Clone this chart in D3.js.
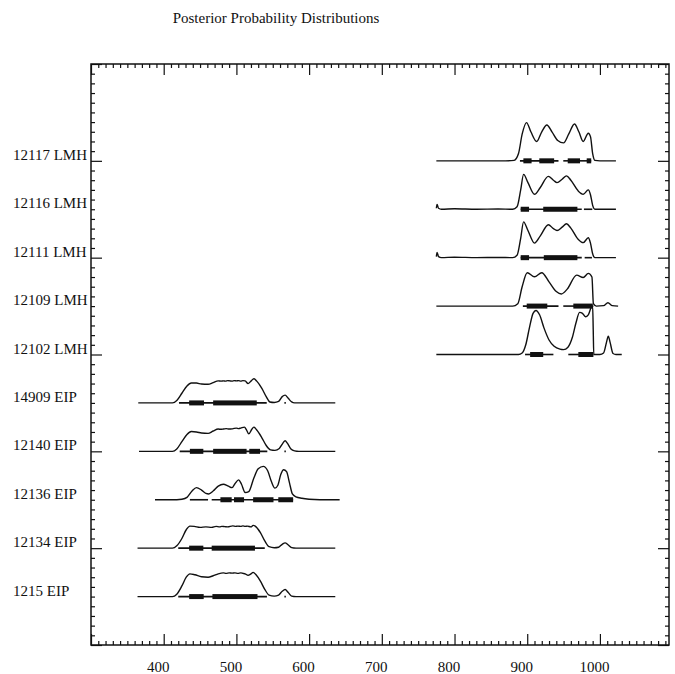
<!DOCTYPE html>
<html>
<head>
<meta charset="utf-8">
<script src="https://cdn.jsdelivr.net/npm/d3@7"></script>
<style>
  html, body { margin: 0; padding: 0; background: #ffffff; }
  svg { display: block; }
  text { font-family: "Liberation Serif", "Times New Roman", serif; fill: #111; }
</style>
</head>
<body>
<svg id="chart" width="675" height="674"></svg>
<script>
// ---------------- DATA ----------------
const title = "Posterior Probability Distributions";
const categories = ["1215 EIP", "12134 EIP", "12136 EIP", "12140 EIP", "14909 EIP",
                    "12102 LMH", "12109 LMH", "12111 LMH", "12116 LMH", "12117 LMH"];
const xTickLabels = [400, 500, 600, 700, 800, 900, 1000];

// density curves: [value, density]  (density in row-spacing units)
const d1215 = [[364,0],[412,0],[418,0.05],[425,0.22],[431,0.4],[436,0.47],[443,0.45],[452,0.41],[461,0.40],[468,0.43],[475,0.47],[482,0.49],[486,0.48],[490,0.49],[494,0.485],[498,0.49],[502,0.48],[506,0.49],[509,0.48],[512,0.47],[516,0.44],[520,0.47],[523,0.50],[527,0.45],[533,0.32],[539,0.15],[545,0.03],[552,0.01],[558,0.03],[563,0.11],[567,0.145],[571,0.09],[576,0.01],[582,0],[636,0]];
const d12134 = [[364,0],[412,0],[418,0.05],[425,0.2],[431,0.38],[436,0.455],[442,0.45],[450,0.43],[458,0.44],[466,0.43],[472,0.45],[477,0.44],[480,0.45],[484,0.445],[488,0.44],[495,0.46],[499,0.45],[502,0.455],[506,0.45],[509,0.46],[512,0.45],[515,0.455],[520,0.44],[523,0.47],[527,0.44],[533,0.32],[539,0.15],[545,0.03],[552,0.01],[558,0.02],[563,0.08],[567,0.11],[571,0.07],[576,0.01],[582,0],[636,0]];
const d12136 = [[388,0],[418,0],[425,0.01],[432,0.05],[439,0.18],[445,0.25],[452,0.2],[458,0.13],[462,0.12],[468,0.18],[475,0.28],[482,0.32],[489,0.28],[494,0.25],[498,0.33],[503,0.41],[507,0.32],[512,0.15],[517,0.17],[524,0.45],[530,0.64],[537,0.69],[543,0.6],[548,0.38],[553,0.24],[557,0.3],[561,0.52],[565,0.62],[569,0.58],[573,0.35],[577,0.12],[582,0.06],[590,0.03],[600,0.01],[615,0],[642,0]];
const d12140 = [[366,0],[412,0],[418,0.05],[425,0.2],[432,0.35],[438,0.41],[445,0.40],[452,0.38],[461,0.37],[468,0.42],[475,0.46],[479,0.455],[482,0.46],[486,0.47],[490,0.46],[494,0.465],[497,0.475],[500,0.48],[503,0.47],[506,0.48],[511,0.50],[514,0.44],[517,0.36],[521,0.45],[524,0.50],[528,0.44],[535,0.28],[541,0.12],[547,0.03],[553,0.02],[559,0.06],[564,0.17],[567,0.22],[570,0.17],[575,0.05],[580,0.01],[586,0],[636,0]];
const d14909 = [[365,0],[412,0],[418,0.05],[425,0.2],[432,0.35],[438,0.41],[445,0.41],[452,0.39],[461,0.385],[468,0.42],[475,0.455],[479,0.45],[482,0.455],[485,0.45],[488,0.46],[491,0.455],[494,0.45],[497,0.46],[500,0.455],[503,0.46],[506,0.45],[509,0.46],[512,0.455],[516,0.40],[520,0.45],[524,0.50],[528,0.45],[535,0.3],[541,0.13],[546,0.02],[552,0.01],[558,0.03],[563,0.13],[567,0.16],[571,0.1],[576,0.02],[580,0],[636,0]];
const d12102 = [[775,0],[888,0],[893,0.03],[898,0.2],[903,0.55],[908,0.85],[912,0.91],[917,0.82],[923,0.55],[930,0.3],[937,0.17],[945,0.11],[950,0.10],[956,0.15],[962,0.35],[967,0.65],[972,0.87],[976,0.85],[980,0.78],[984,0.82],[988,0.97],[990,0.99],[990.8,0.5],[991.5,0],[1000,0],[1005,0.03],[1009,0.25],[1011.5,0.38],[1014,0.25],[1018,0.02],[1022,0],[1030,0]];
const d12109 = [[775,0],[880,0],[887,0.05],[893,0.4],[900,0.69],[910,0.605],[920,0.69],[930,0.5],[940,0.3],[947,0.25],[955,0.35],[968,0.64],[977,0.59],[984,0.675],[989,0.6],[991,0.05],[995,0],[1005,0.01],[1011,0.07],[1017,0.01],[1025,0]];
const d12111 = [[775,0.02],[776,0.11],[778,0.02],[782,0],[800,0.01],[830,0],[860,0.005],[880,0],[886,0.05],[891,0.4],[895,0.74],[901,0.56],[910,0.30],[918,0.45],[929,0.68],[936,0.6],[941,0.56],[948,0.63],[954,0.70],[960,0.61],[970,0.38],[977,0.31],[984,0.41],[987,0.3],[990,0.08],[993,0],[1022,0]];
const d12116 = [[775,0.02],[776,0.1],[778,0.02],[782,0],[800,0.01],[830,0],[860,0.005],[880,0],[886,0.05],[891,0.4],[895,0.72],[901,0.55],[910,0.31],[918,0.45],[929,0.68],[936,0.6],[941,0.55],[948,0.62],[954,0.69],[960,0.6],[970,0.38],[977,0.31],[984,0.40],[987,0.3],[990,0.08],[993,0],[1022,0]];
const d12117 = [[775,0],[870,0],[882,0.01],[888,0.15],[893,0.55],[899,0.79],[905,0.6],[913,0.40],[920,0.6],[927,0.74],[934,0.6],[942,0.42],[950,0.37],[957,0.55],[965,0.76],[971,0.6],[977,0.40],[984,0.57],[987,0.5],[990,0.15],[993,0.01],[1000,0],[1022,0]];

// credible intervals: thin (wide) and thick (narrow) segments
const thin1215 = [[420,542],[566,568]];       const thick1215 = [[435,455],[467,529]];
const thin12134 = [[420,539]];                const thick12134 = [[435,454.5],[466,525.5]];
const thin12136 = [[436,461],[466,578]];      const thick12136 = [[478,493.5],[496.7,510.5],[523,551],[557.6,578]];
const thin12140 = [[422,542.5],[566,568]];    const thick12140 = [[436,454.5],[468,514],[517.7,532.5]];
const thin14909 = [[421,541.7],[566,568]];    const thick14909 = [[435,455.4],[468,528]];
const thin12102 = [[897,936],[956.5,991]];    const thick12102 = [[904,922],[970.3,991]];
const thin12109 = [[894,943],[949.6,991]];    const thick12109 = [[899.3,927.6],[963.4,990.2]];
const thin12111 = [[891,975],[979,989]];      const thick12111 = [[891,902.5],[922.8,969]];
const thin12116 = [[891,975],[978,989.5]];    const thick12116 = [[891,902.5],[922,969]];
const thin12117 = [[890,943],[949.6,988]];    const thick12117 = [[894.7,906],[916.6,937],[955.7,972.6],[981.8,988]];

const curves = [d1215, d12134, d12136, d12140, d14909, d12102, d12109, d12111, d12116, d12117];
const thinBars = [thin1215, thin12134, thin12136, thin12140, thin14909, thin12102, thin12109, thin12111, thin12116, thin12117];
const thickBars = [thick1215, thick12134, thick12136, thick12140, thick14909, thick12102, thick12109, thick12111, thick12116, thick12117];

// ---------------- CHART ----------------
const svg = d3.select("#chart");
const L = 91, R = 669, T = 64, B = 645;
const x = d3.scaleLinear().domain([300, 1095]).range([L, R]);
const y = d3.scaleLinear().domain([0, 12]).range([B, T]);

// title
svg.append("text").attr("x", 276).attr("y", 23).attr("text-anchor", "middle")
  .style("font-size", "15px").text(title);

// ticks
const xMajor = d3.range(300, 1100, 100);
const xMinor = d3.range(300, 1095, 10).filter(v => v % 100 !== 0);
const yMajor = d3.range(0, 13, 2);
const yMinor = d3.range(0, 12.01, 0.2).map(v => +v.toFixed(1)).filter(v => Math.abs(v / 2 - Math.round(v / 2)) > 1e-6);

function styleAxis(g) {
  g.select(".domain").remove();
  g.selectAll(".tick line").attr("stroke", "#111").attr("stroke-width", 1.2);
}
// bottom
svg.append("g").attr("transform", `translate(0,${B})`)
  .call(d3.axisBottom(x).tickValues(xMinor).tickSize(-4).tickFormat(""))
  .call(styleAxis);
const bx = svg.append("g").attr("transform", `translate(0,${B})`)
  .call(d3.axisBottom(x).tickValues(xMajor).tickSize(-11).tickFormat(d => xTickLabels.includes(d) ? d : ""))
  .call(styleAxis);
bx.selectAll(".tick text").attr("y", 27).attr("dy", 0).attr("dx", -6)
  .style("font-size", "15px").style("font-family", "Liberation Serif, serif").attr("fill", "#111");
// top
svg.append("g").attr("transform", `translate(0,${T})`)
  .call(d3.axisTop(x).tickValues(xMinor).tickSize(-4).tickFormat("")).call(styleAxis);
svg.append("g").attr("transform", `translate(0,${T})`)
  .call(d3.axisTop(x).tickValues(xMajor).tickSize(-11).tickFormat("")).call(styleAxis);
// left
svg.append("g").attr("transform", `translate(${L},0)`)
  .call(d3.axisLeft(y).tickValues(yMinor).tickSize(-4).tickFormat("")).call(styleAxis);
svg.append("g").attr("transform", `translate(${L},0)`)
  .call(d3.axisLeft(y).tickValues(yMajor).tickSize(-11).tickFormat("")).call(styleAxis);
// right
svg.append("g").attr("transform", `translate(${R},0)`)
  .call(d3.axisRight(y).tickValues(yMinor).tickSize(-4).tickFormat("")).call(styleAxis);
svg.append("g").attr("transform", `translate(${R},0)`)
  .call(d3.axisRight(y).tickValues(yMajor).tickSize(-11).tickFormat("")).call(styleAxis);

// frame
svg.append("rect").attr("x", L).attr("y", T).attr("width", R - L).attr("height", B - T)
  .attr("fill", "none").attr("stroke", "#111").attr("stroke-width", 1.5);

// row labels
svg.append("g").selectAll("text").data(categories).join("text")
  .attr("x", 13).attr("y", (d, i) => y(i + 1) - 1)
  .style("font-size", "15px").text(d => d);

// curves
const line = d3.line().x(d => x(d[0])).curve(d3.curveMonotoneX);
curves.forEach((c, i) => {
  const row = i + 1;
  svg.append("path").datum(c)
    .attr("d", line.y(d => y(row + d[1])))
    .attr("fill", "none").attr("stroke", "#111").attr("stroke-width", 1.4)
    .attr("stroke-linejoin", "round");
  svg.append("g").selectAll("line").data(thinBars[i]).join("line")
    .attr("x1", d => x(d[0])).attr("x2", d => x(d[1]))
    .attr("y1", y(row)).attr("y2", y(row))
    .attr("stroke", "#111").attr("stroke-width", 1.6);
  svg.append("g").selectAll("rect").data(thickBars[i]).join("rect")
    .attr("x", d => x(d[0])).attr("width", d => x(d[1]) - x(d[0]))
    .attr("y", y(row) - 2.5).attr("height", 5)
    .attr("fill", "#111");
});
</script>
</body>
</html>
